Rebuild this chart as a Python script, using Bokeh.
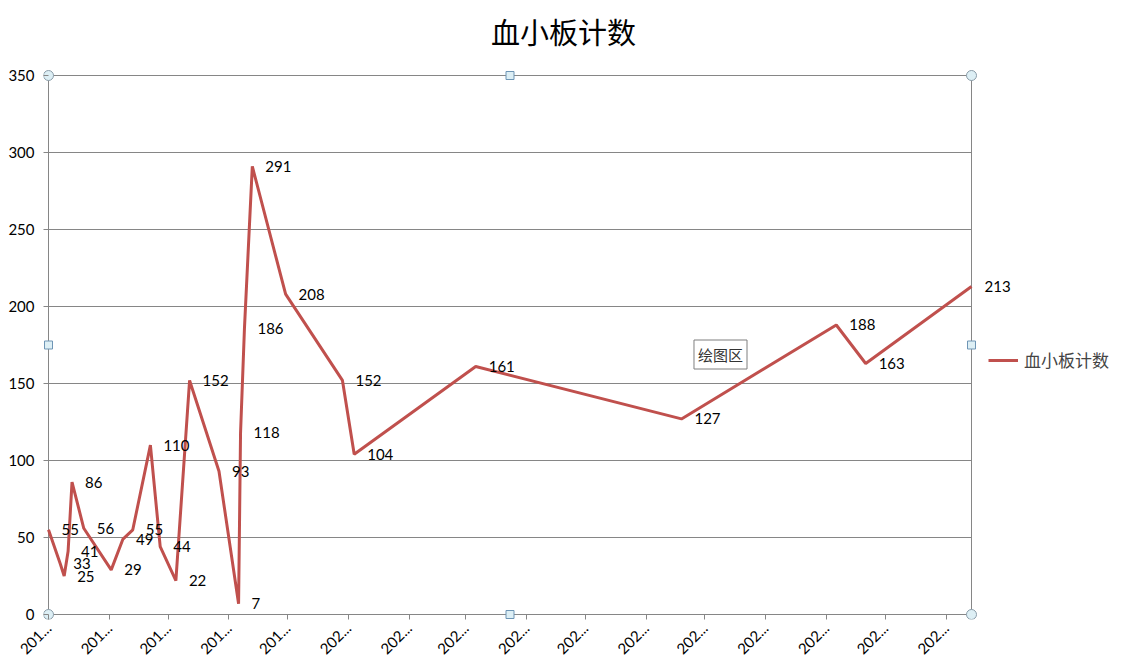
import math
import pandas as pd
from bokeh.plotting import figure
from bokeh.core.properties import value
from bokeh.models import (ColumnDataSource, Range1d, FixedTicker,
                          CustomJSTickFormatter, LabelSet, Label, Legend, LegendItem)
from bokeh.embed import file_html
from bokeh.resources import INLINE

# ---- data ----
dates = ["2019-08-12", "2019-08-18", "2019-08-20", "2019-08-22", "2019-08-24",
         "2019-08-30", "2019-09-13", "2019-09-19", "2019-09-24", "2019-10-03",
         "2019-10-08", "2019-10-16", "2019-10-23", "2019-11-07", "2019-11-17",
         "2019-11-18", "2019-11-20", "2019-11-24", "2019-12-11", "2020-01-09",
         "2020-01-15", "2020-03-17", "2020-06-30", "2020-09-17", "2020-10-02",
         "2020-11-25"]
platelets = [55, 33, 25, 41, 86, 56, 29, 49, 55, 110, 44, 22, 152, 93, 7,
             118, 186, 291, 208, 152, 104, 161, 127, 188, 163, 213]
tick_dates = ["2019-08-12", "2019-09-12", "2019-10-12", "2019-11-12", "2019-12-12",
              "2020-01-12", "2020-02-12", "2020-03-12", "2020-04-12", "2020-05-12",
              "2020-06-12", "2020-07-12", "2020-08-12", "2020-09-12", "2020-10-12",
              "2020-11-12"]
y_ticks = [0, 50, 100, 150, 200, 250, 300, 350]
series_name = "血小板计数"
title_text = "血小板计数"

RED = "#C0504D"
GRAY = "#868686"
NUM_FONT = "Lato"
CJK_FONT = "Noto Sans CJK SC"

# ---- layout geometry (pixels) ----
W, H = 1134, 669
PL, PR, PT, PB = 48, 971, 75, 614          # Excel plot-area box
TICK = 5
FL, FB = PL - TICK, PB + TICK              # Bokeh frame left / bottom edge (axes sit here)
FW, FH = W - FL, FB                        # frame reaches the top and right edges

x = pd.to_datetime(dates)
x_ms = (x.astype("int64") // 10**6).tolist()
x0, x1 = min(x_ms), max(x_ms)
y0, y1 = y_ticks[0], y_ticks[-1]

src = ColumnDataSource(dict(x=x_ms, y=platelets, lab=[str(v) for v in platelets]))

xs = (x1 - x0) / (PR - PL)                 # ms per pixel
ys = (y1 - y0) / (PB - PT)                 # units per pixel
x_start = x0 - (PL - FL) * xs
x_end = x_start + FW * xs
y_start = y0 - (FB - PB) * ys
y_end = y_start + FH * ys

p = figure(frame_width=FW, frame_height=FH, output_backend="svg",
           toolbar_location=None, min_border_left=FL, min_border_right=0,
           min_border_top=0, min_border_bottom=H - FB,
           x_range=Range1d(x_start, x_end), y_range=Range1d(y_start, y_end))
p.title.visible = False
p.background_fill_color = "white"
p.border_fill_color = "white"
p.outline_line_color = None
p.xgrid.visible = False
p.ygrid.visible = False

# axes: ticks reach inward from the frame edge to the plot-area edge
tick_ms = [int(t.value // 10**6) for t in pd.to_datetime(tick_dates)]
p.xaxis.ticker = FixedTicker(ticks=tick_ms)
p.xaxis.formatter = CustomJSTickFormatter(
    code="return String(new Date(tick).getUTCFullYear()).slice(0, 3) + '...';")
p.xaxis.major_label_orientation = math.pi / 4
p.xaxis.bounds = (x0, x1)
p.yaxis.ticker = FixedTicker(ticks=y_ticks)
p.yaxis.bounds = (y0, y1)
for ax in (p.xaxis, p.yaxis):
    ax.axis_line_color = None
    ax.major_tick_line_color = GRAY
    ax.major_tick_out = 0
    ax.major_tick_in = TICK
    ax.minor_tick_line_color = None
    ax.major_label_text_font = NUM_FONT
    ax.major_label_text_font_size = "15px"
    ax.major_label_text_color = "black"
p.yaxis.major_label_standoff = 9
p.xaxis.major_label_standoff = 6

# plot-area border and horizontal gridlines
gy = y_ticks[1:]
p.segment(x0=[x0] * len(gy), y0=gy, x1=[x1] * len(gy), y1=gy,
          line_color=GRAY, line_width=1)
p.segment(x0=[x0, x1, x0], y0=[y0, y0, y0], x1=[x0, x1, x1], y1=[y1, y1, y0],
          line_color=GRAY, line_width=1)

line = p.line("x", "y", source=src, line_color=RED, line_width=3)

labels = LabelSet(x="x", y="y", text="lab", source=src, x_offset=13, y_offset=0,
                  text_align="left", text_baseline="middle",
                  text_font=value(NUM_FONT), text_font_size="15px", text_color="black")
p.add_layout(labels)

# selection handles of the plot area
xm = (x0 + x1) / 2
ym = (y0 + y1) / 2
p.scatter([x0, x0, x1, x1], [y0, y1, y0, y1], marker="circle", size=10,
          fill_color="#DDEFF5", line_color="#8A9CA8", line_width=1)
p.scatter([xm, xm, x0, x1], [y0, y1, ym, ym], marker="square", size=8,
          fill_color="#DDEFF5", line_color="#6E95B5", line_width=1)

# title
p.add_layout(Label(x=563 - FL, y=FB - 30, x_units="screen", y_units="screen",
                   text=title_text, text_align="center", text_baseline="middle",
                   text_font=CJK_FONT, text_font_size="29px", text_color="black"))

# legend
legend = Legend(items=[LegendItem(label=series_name, renderers=[line])],
                location=(988 - FL, FB - 362 - 10), glyph_width=30, glyph_height=20,
                label_standoff=6, padding=0, margin=0, border_line_color=None,
                background_fill_alpha=0, label_text_font=CJK_FONT,
                label_text_font_size="17px", label_height=20)
p.add_layout(legend)

# "绘图区" tooltip with shadow
tx, ty = 720 - FL, FB - 354
p.add_layout(Label(x=tx + 3, y=ty - 3, x_units="screen", y_units="screen",
                   text="绘图区", text_alpha=0, text_align="center", text_baseline="middle",
                   text_font=CJK_FONT, text_font_size="15px", padding=4,
                   background_fill_color="#B0B0B0", border_line_color=None))
p.add_layout(Label(x=tx, y=ty, x_units="screen", y_units="screen",
                   text="绘图区", text_align="center", text_baseline="middle",
                   text_font=CJK_FONT, text_font_size="15px", text_color="#333333",
                   padding=4, background_fill_color="white",
                   border_line_color="#7F7F7F", border_line_width=1))

open("out.html", "w").write(file_html(p, INLINE))
